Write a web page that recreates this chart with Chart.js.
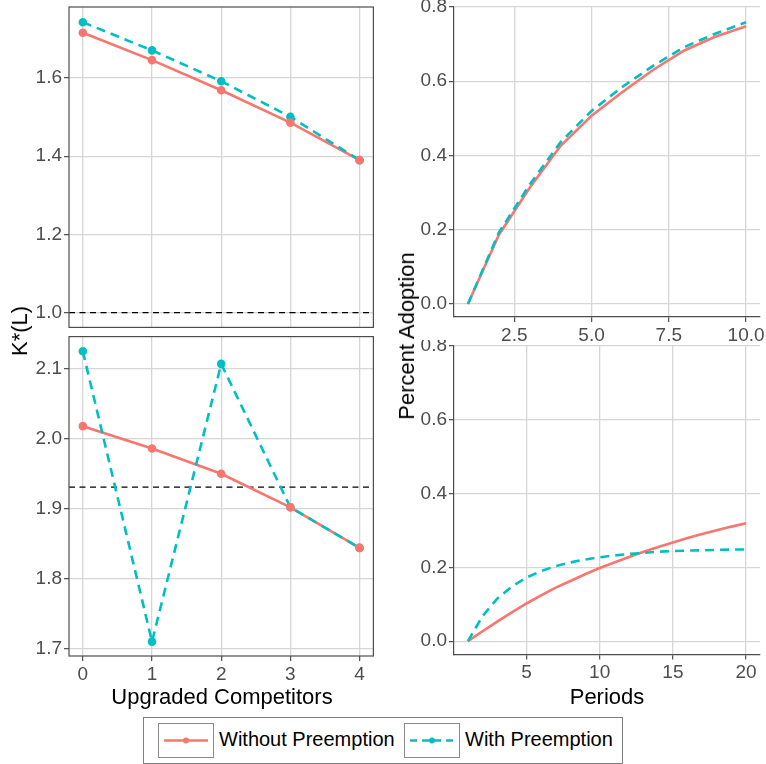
<!DOCTYPE html>
<html>
<head>
<meta charset="utf-8">
<script src="https://cdn.jsdelivr.net/npm/chart.js@4"></script>
<style>
  body { margin: 0; background: #fff; }
  #wrap { position: relative; width: 766px; height: 764px; font-family: "Liberation Sans", Arial, sans-serif; }
  canvas { position: absolute; }
  .title { position: absolute; color: #000; font-size: 22px; white-space: nowrap; }
  .vert { transform: translate(-50%, -50%) rotate(-90deg); }
  .horz { transform: translate(-50%, 0); }
  #legend { position: absolute; left: 143px; top: 717px; width: 478px; height: 45px; border: 1px solid #7f7f7f; }
  .key { position: absolute; top: 5px; width: 54px; height: 33px; border: 1px solid #8a8a8a; }
  .ltext { position: absolute; top: 10px; font-size: 20px; color: #000; white-space: nowrap; }
</style>
</head>
<body>
<div id="wrap">
  <canvas id="topLeft" width="380" height="334" style="left:0;top:0"></canvas>
  <canvas id="bottomLeft" width="380" height="354" style="left:0;top:330px"></canvas>
  <canvas id="topRight" width="386" height="345" style="left:380px;top:0"></canvas>
  <canvas id="bottomRight" width="386" height="344" style="left:380px;top:340px"></canvas>

  <div class="title vert" style="left:20px;top:331px">K*(L)</div>
  <div class="title vert" style="left:407px;top:336px">Percent Adoption</div>
  <div class="title horz" style="left:222px;top:684px">Upgraded Competitors</div>
  <div class="title horz" style="left:607px;top:684px">Periods</div>

  <div id="legend">
    <div class="key" style="left:14px">
      <svg width="54" height="33"><line x1="5" y1="16.5" x2="49" y2="16.5" stroke="#F8766D" stroke-width="2.6"/><circle cx="27" cy="16.5" r="3" fill="#F8766D"/></svg>
    </div>
    <div class="ltext" style="left:75px">Without Preemption</div>
    <div class="key" style="left:260px">
      <svg width="54" height="33"><line x1="5" y1="16.5" x2="49" y2="16.5" stroke="#00BFC4" stroke-width="2.6" stroke-dasharray="7 5"/><circle cx="27" cy="16.5" r="3" fill="#00BFC4"/></svg>
    </div>
    <div class="ltext" style="left:321px">With Preemption</div>
  </div>
</div>

<script>
// ---- data ----
const competitors = [0, 1, 2, 3, 4];
const kWithoutTop = [1.716, 1.646, 1.569, 1.486, 1.390];
const kWithTop = [1.743, 1.671, 1.592, 1.501, 1.390];
const kWithoutBottom = [2.018, 1.986, 1.950, 1.902, 1.844];
const kWithBottom = [2.125, 1.710, 2.107, 1.902, 1.844];
const thresholdTop = 1.0;
const thresholdBottom = 1.931;

const periodsShort = [1, 2, 3, 4, 5, 6, 7, 8, 9, 10];
const adoptWithoutShort = [0, 0.186, 0.313, 0.426, 0.507, 0.571, 0.631, 0.683, 0.720, 0.748];
const adoptWithShort = [0, 0.192, 0.322, 0.436, 0.520, 0.585, 0.642, 0.692, 0.728, 0.759];

const periodsLong = [1, 2, 3, 4, 5, 6, 7, 8, 9, 10, 11, 12, 13, 14, 15, 16, 17, 18, 19, 20];
const adoptWithoutLong = [0, 0.027, 0.053, 0.078, 0.102, 0.124, 0.145, 0.163, 0.181, 0.198,
  0.213, 0.228, 0.242, 0.255, 0.267, 0.279, 0.290, 0.300, 0.310, 0.319];
const adoptWithLong = [0, 0.068, 0.115, 0.148, 0.172, 0.190, 0.203, 0.213, 0.221, 0.227,
  0.232, 0.236, 0.239, 0.242, 0.244, 0.245, 0.246, 0.247, 0.248, 0.248];

// tick labels
const competitorTicks = [0, 1, 2, 3, 4];
const kTicksTop = [1.0, 1.2, 1.4, 1.6];
const kTicksBottom = [1.7, 1.8, 1.9, 2.0, 2.1];
const adoptTicks = [0.0, 0.2, 0.4, 0.6, 0.8];
const shortPeriodTicks = [2.5, 5.0, 7.5, 10.0];
const longPeriodTicks = [5, 10, 15, 20];

// ---- styling ----
const RED = '#F8766D';
const CYAN = '#00BFC4';
const GRID = '#d6d6d6';
const AXIS = '#4d4d4d';
const FONT = { family: '"Liberation Sans", Arial, sans-serif', size: 19 };

const toXY = (xs, ys) => xs.map((x, i) => ({ x: x, y: ys[i] }));

function lineSet(xs, ys, color, dashed, points) {
  return {
    data: toXY(xs, ys),
    borderColor: color,
    backgroundColor: color,
    borderWidth: 2.6,
    borderDash: dashed ? [9, 6] : [],
    pointRadius: points ? 3 : 0,
    showLine: !points,
    tension: 0
  };
}

function hline(y, xMin, xMax) {
  return {
    data: [{ x: xMin, y: y }, { x: xMax, y: y }],
    borderColor: '#000',
    borderWidth: 1.3,
    borderDash: [6, 4.5],
    pointRadius: 0,
    tension: 0
  };
}

// full box round the left panels
const panelBox = {
  id: 'panelBox',
  afterDatasetsDraw(chart, args, opts) {
    if (!opts.on) return;
    const a = chart.chartArea, c = chart.ctx;
    c.save();
    c.strokeStyle = AXIS;
    c.lineWidth = 1.2;
    c.strokeRect(a.left, a.top, a.right - a.left, a.bottom - a.top);
    c.restore();
  }
};

function fixedTicks(list) {
  return scale => { scale.ticks = list.map(v => ({ value: v })); };
}

// datasets are listed top-most first (Chart.js paints the first one last)
function makeChart(id, cfg) {
  return new Chart(document.getElementById(id), {
    type: 'line',
    data: { datasets: cfg.datasets },
    plugins: [panelBox],
    options: {
      responsive: false,
      animation: false,
      devicePixelRatio: 1,
      layout: { padding: cfg.padding },
      plugins: { legend: { display: false }, tooltip: { enabled: false }, panelBox: { on: cfg.box } },
      scales: {
        x: {
          type: 'linear',
          min: cfg.xMin, max: cfg.xMax,
          afterBuildTicks: fixedTicks(cfg.xTicks),
          afterFit: s => { s.height = cfg.xHeight; s.paddingLeft = 0; s.paddingRight = 0; },
          grid: { color: GRID, lineWidth: 1.3, drawTicks: cfg.xLabels, tickLength: 5, tickColor: AXIS, tickWidth: 1.2 },
          border: { display: !cfg.box, color: AXIS, width: 1.2 },
          ticks: { display: cfg.xLabels, color: AXIS, font: FONT, padding: 2, maxRotation: 0, autoSkip: false,
            callback: cfg.xFmt }
        },
        y: {
          type: 'linear',
          min: cfg.yMin, max: cfg.yMax,
          afterBuildTicks: fixedTicks(cfg.yTicks),
          afterFit: s => { s.width = cfg.yWidth; s.paddingTop = 0; s.paddingBottom = 0; },
          grid: { color: GRID, lineWidth: 1.3, tickLength: 5, tickColor: AXIS, tickWidth: 1.2 },
          border: { display: !cfg.box, color: AXIS, width: 1.2 },
          ticks: { color: AXIS, font: FONT, padding: 2, autoSkip: false, callback: v => v.toFixed(1) }
        }
      }
    }
  });
}

// top left: K*(L) against upgraded competitors
makeChart('topLeft', {
  datasets: [
    lineSet(competitors, kWithoutTop, RED, false, true),
    lineSet(competitors, kWithTop, CYAN, false, true),
    lineSet(competitors, kWithTop, CYAN, true, false),
    lineSet(competitors, kWithoutTop, RED, false, false),
    hline(thresholdTop, -0.2, 4.2)
  ],
  padding: { left: 0, right: 4, top: 7, bottom: 3 },
  xMin: -0.2, xMax: 4.2, xTicks: competitorTicks, xLabels: false, xHeight: 0,
  yMin: 0.962, yMax: 1.782, yTicks: kTicksTop, yWidth: 69,
  box: true, xFmt: v => String(v)
});

// bottom left
makeChart('bottomLeft', {
  datasets: [
    lineSet(competitors, kWithoutBottom, RED, false, true),
    lineSet(competitors, kWithBottom, CYAN, false, true),
    lineSet(competitors, kWithBottom, CYAN, true, false),
    lineSet(competitors, kWithoutBottom, RED, false, false),
    hline(thresholdBottom, -0.2, 4.2)
  ],
  padding: { left: 0, right: 4, top: 6, bottom: 0 },
  xMin: -0.2, xMax: 4.2, xTicks: competitorTicks, xLabels: true, xHeight: 28,
  yMin: 1.6895, yMax: 2.146, yTicks: kTicksBottom, yWidth: 69,
  box: true, xFmt: v => String(v)
});

// top right: adoption over 10 periods
makeChart('topRight', {
  datasets: [
    lineSet(periodsShort, adoptWithShort, CYAN, true, false),
    lineSet(periodsShort, adoptWithoutShort, RED, false, false)
  ],
  padding: { left: 0, right: 6, top: 7, bottom: 0 },
  xMin: 0.55, xMax: 10.45, xTicks: shortPeriodTicks, xLabels: true, xHeight: 28,
  yMin: -0.035, yMax: 0.8, yTicks: adoptTicks, yWidth: 74,
  box: false, xFmt: v => v.toFixed(1)
});

// bottom right: adoption over 20 periods
makeChart('bottomRight', {
  datasets: [
    lineSet(periodsLong, adoptWithLong, CYAN, true, false),
    lineSet(periodsLong, adoptWithoutLong, RED, false, false)
  ],
  padding: { left: 0, right: 6, top: 5.5, bottom: 0 },
  xMin: 0.05, xMax: 20.95, xTicks: longPeriodTicks, xLabels: true, xHeight: 29.5,
  yMin: -0.036, yMax: 0.8, yTicks: adoptTicks, yWidth: 74,
  box: false, xFmt: v => String(v)
});
</script>
</body>
</html>
